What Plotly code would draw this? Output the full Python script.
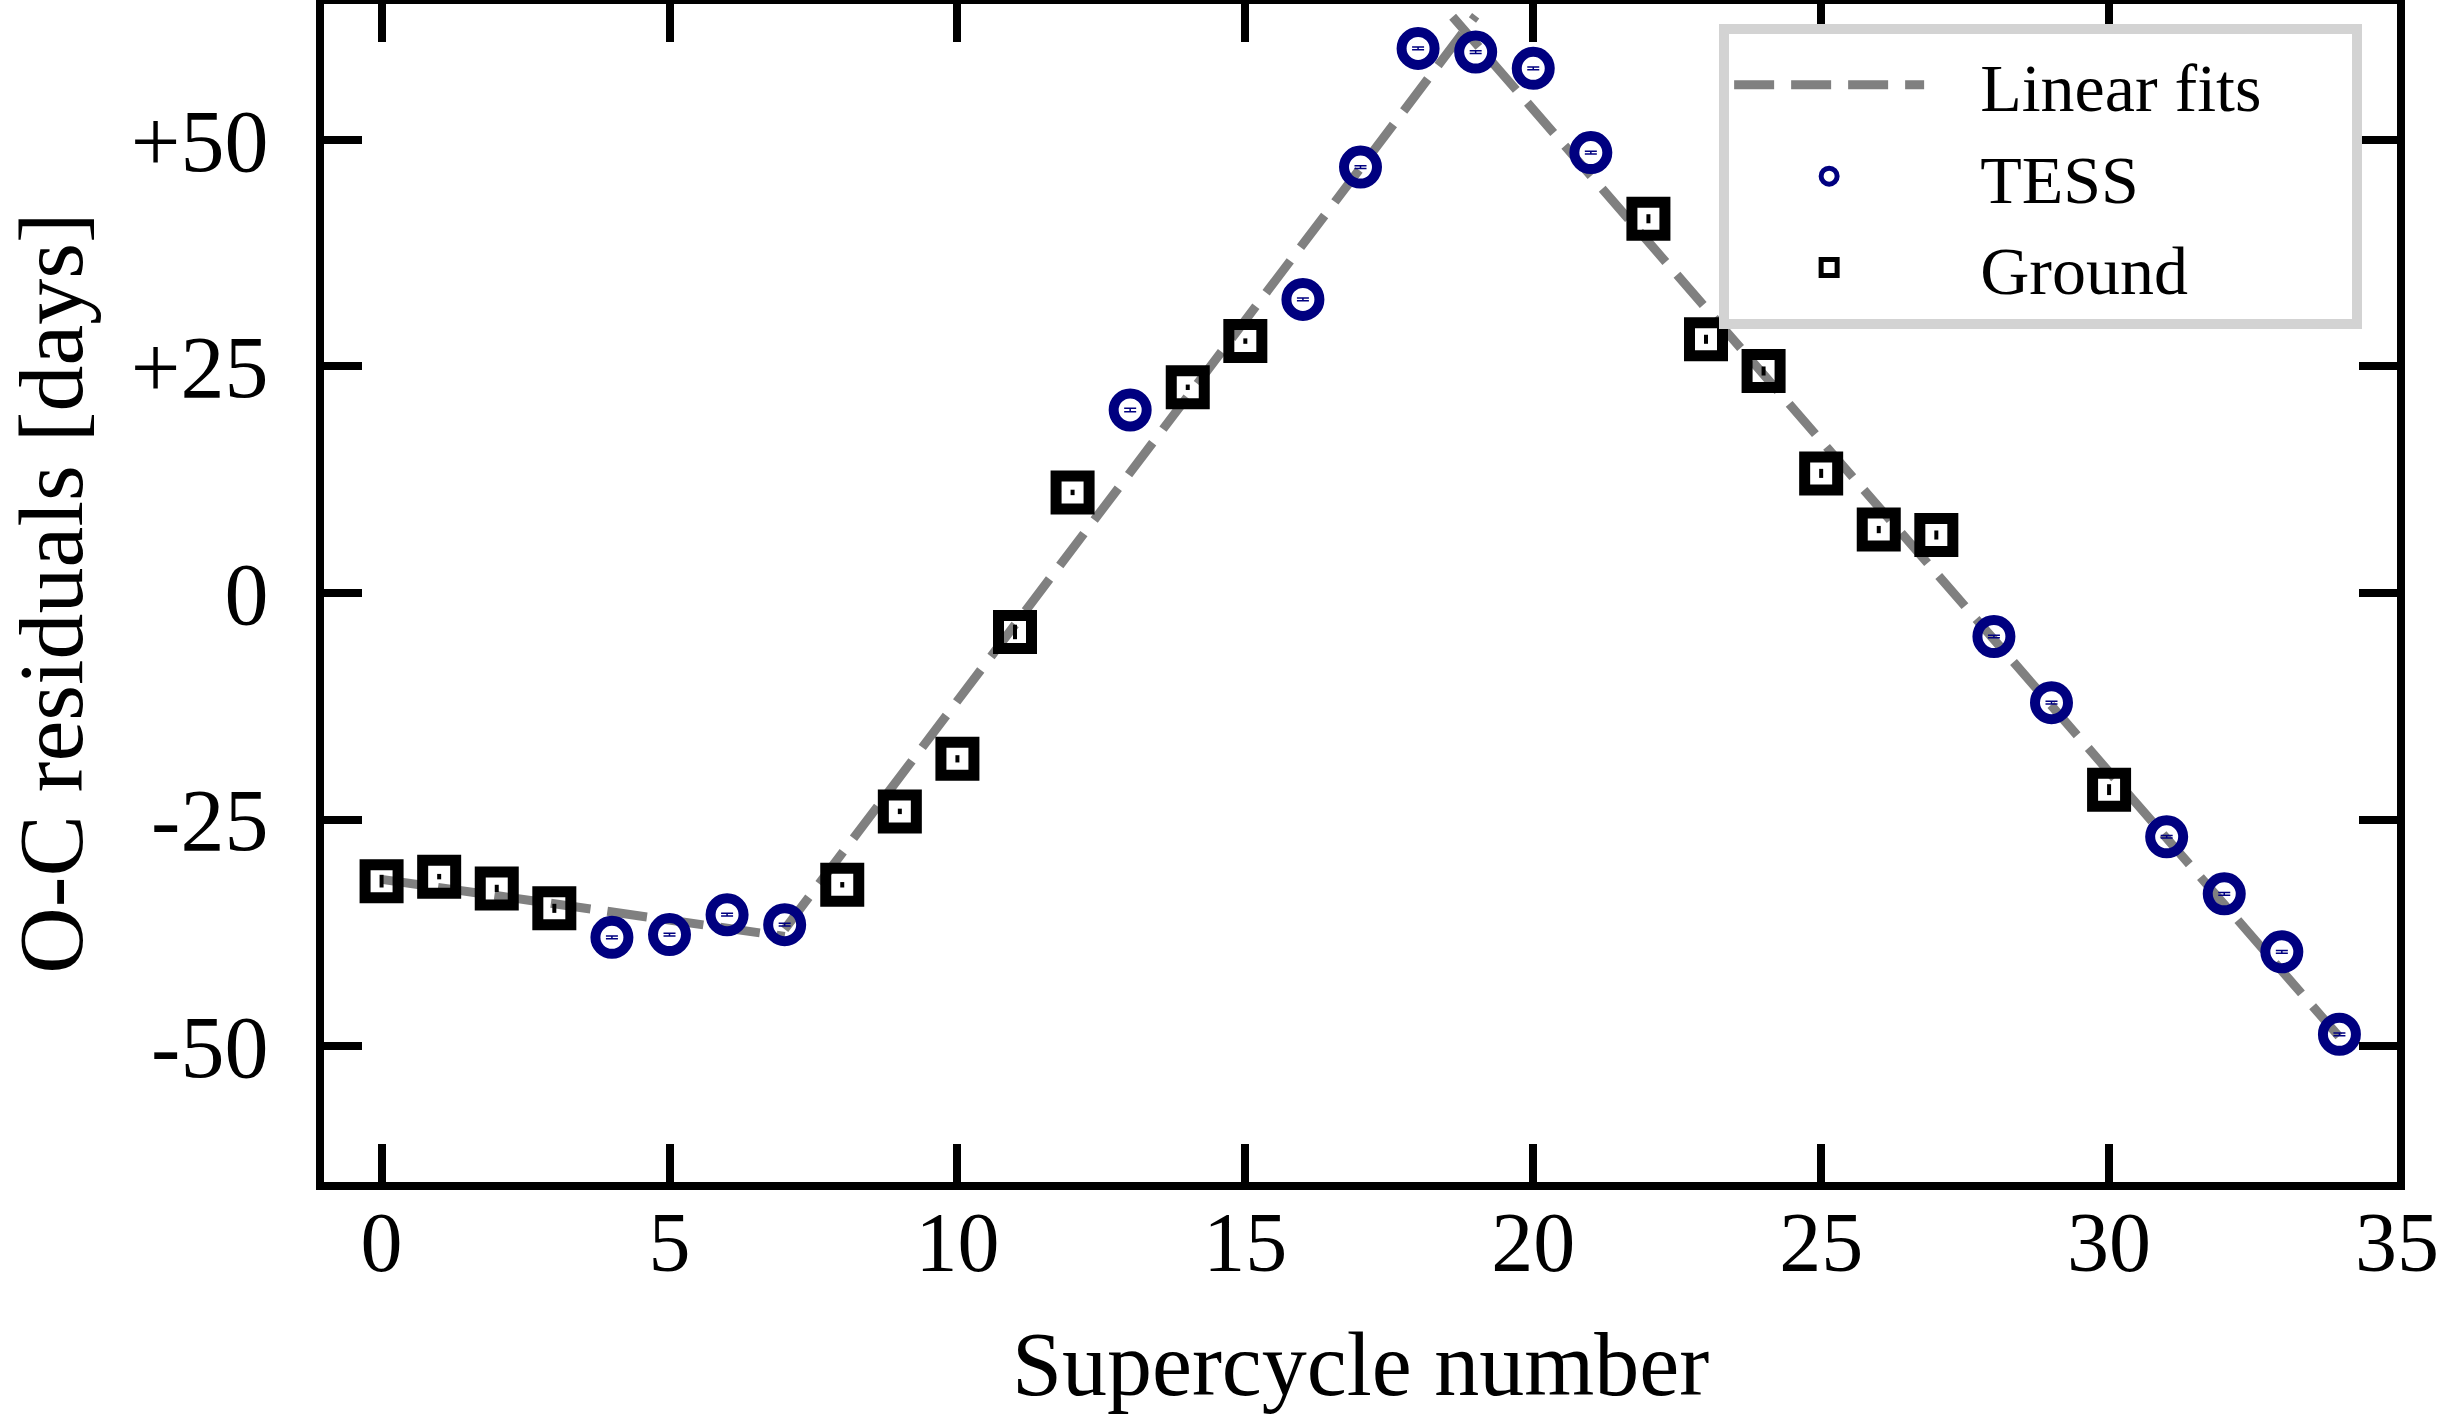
import plotly.graph_objects as go

# ---- data ----
cycles_tess = [4, 5, 6, 7, 13, 16, 17, 18, 19, 20, 21, 28, 29, 31, 32, 33, 34]
oc_tess = [-38.0, -37.7, -35.5, -36.6, 20.2, 32.4, 47.0, 60.1, 59.7, 57.9, 48.6,
           -4.8, -12.1, -26.9, -33.2, -39.6, -48.7]
err_tess = [0.15, 0.15, 0.15, 0.15, 0.2, 0.15, 0.15, 0.15, 0.15, 0.15, 0.15,
            0.15, 0.15, 0.15, 0.15, 0.15, 0.15]

cycles_ground = [0, 1, 2, 3, 8, 9, 10, 11, 12, 14, 15, 22, 23, 24, 25, 26, 27, 30]
oc_ground = [-31.8, -31.3, -32.6, -34.8, -32.2, -24.1, -18.3, -4.3, 11.1, 22.7,
             27.8, 41.3, 28.0, 24.5, 13.2, 7.0, 6.4, -21.7]
err_ground = [0.7, 0.3, 0.4, 0.5, 0.3, 0.3, 0.4, 0.8, 0.3, 0.3, 0.3, 0.5, 0.5,
              0.5, 0.5, 0.4, 0.5, 0.6]

# three linear fits (segment end points)
fit_x = [0, 7, None, 7, 19, None, 18.6, 34]
fit_y = [-31.6, -37.9, None, -37.1, 63.7, None, 63.6, -49.0]

x_ticks = [0, 5, 10, 15, 20, 25, 30, 35]
y_ticks = [-50, -25, 0, 25, 50]
y_ticktext = ["-50", "-25", "0", "+25", "+50"]

legend_names = ["Linear fits", "TESS", "Ground"]

FONT = "Liberation Serif"
NAVY = "#000080"
NB = "\u00a0"
PAD = NB * 3

fig = go.Figure()

fig.add_trace(go.Scatter(
    x=fit_x, y=fit_y, mode="lines", name=PAD + legend_names[0] + NB * 5,
    line=dict(color="#808080", width=9, dash="40px,17px"),
    connectgaps=False,
))

fig.add_trace(go.Scatter(
    x=cycles_tess, y=oc_tess, mode="markers", name=PAD + legend_names[1],
    marker=dict(symbol="circle-open", size=33, color=NAVY,
                line=dict(width=10, color=NAVY)),
    error_y=dict(type="data", array=err_tess, visible=True, color=NAVY,
                 thickness=1.5, width=6),
))

fig.add_trace(go.Scatter(
    x=cycles_ground, y=oc_ground, mode="markers", name=PAD + legend_names[2],
    marker=dict(symbol="square-open", size=33, color="black",
                line=dict(width=11, color="black")),
    error_y=dict(type="data", array=err_ground, visible=True, color="black",
                 thickness=4, width=0),
))

axis_common = dict(
    showline=True, linewidth=8, linecolor="black", mirror="ticks",
    ticks="inside", ticklen=38, tickwidth=8, tickcolor="black",
    showgrid=False, zeroline=False, automargin=False,
    ticklabeloverflow="allow",
)

fig.update_layout(
    width=2440, height=1414,
    margin=dict(l=324, r=43, t=4, b=232),
    paper_bgcolor="white", plot_bgcolor="white",
    font=dict(family=FONT, color="black"),
    showlegend=True,
    legend=dict(
        x=0.673, y=0.983, xanchor="left", yanchor="top",
        bgcolor="white", bordercolor="#d3d3d3", borderwidth=10,
        font=dict(family=FONT, size=68, color="black"),
        itemwidth=190, tracegroupgap=0,
    ),
    xaxis=dict(
        range=[-1, 35], tickvals=x_ticks, ticktext=[str(v) for v in x_ticks],
        tickfont=dict(family=FONT, size=84, color="black"),
        title=dict(text="Supercycle number", font=dict(family=FONT, size=90),
                   standoff=76),
        ticklabelstandoff=-20,
        **axis_common,
    ),
    yaxis=dict(
        range=[-65, 65], tickvals=y_ticks, ticktext=y_ticktext,
        tickfont=dict(family=FONT, size=88, color="black"),
        title=dict(text="O-C residuals [days]", font=dict(family=FONT, size=92),
                   standoff=72),
        ticklabelstandoff=30,
        **axis_common,
    ),
)

fig.write_html("out.html", config={"displayModeBar": False},
               post_script="document.body.style.margin='0';")
